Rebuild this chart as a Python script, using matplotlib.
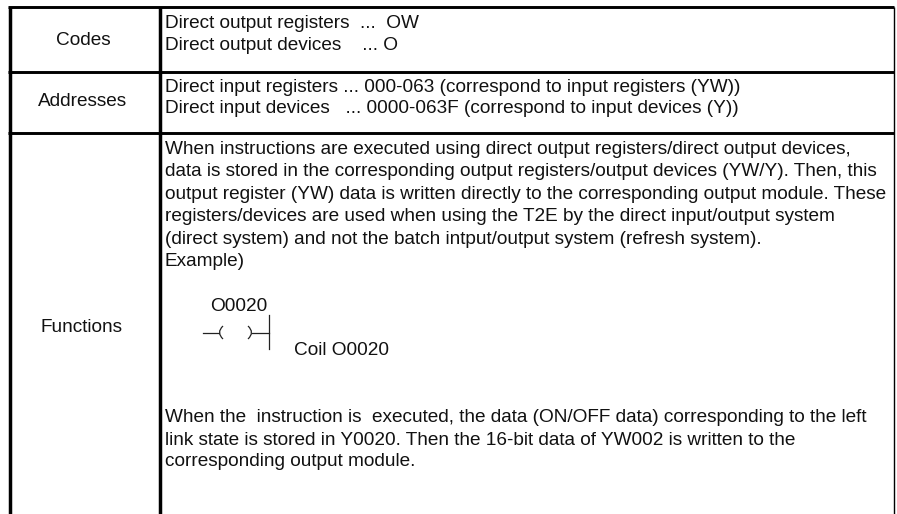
import matplotlib
matplotlib.use('Agg')
import matplotlib.pyplot as plt
from matplotlib.patches import PathPatch
from matplotlib.path import Path

W, H = 897, 514

row_labels = ['Codes', 'Addresses', 'Functions']
row_label_x = [83.5, 83, 82]
row_label_y = [45, 106, 332]

text_lines = [
    (164.7, 28.3, 'Direct output registers  ...  OW'),
    (164.7, 50.3, 'Direct output devices    ... O'),
    (164.7, 91.7, 'Direct input registers ... 000-063 (correspond to input registers (YW))'),
    (164.7, 112.7, 'Direct input devices   ... 0000-063F (correspond to input devices (Y))'),
    (164.7, 154, 'When instructions are executed using direct output registers/direct output devices,'),
    (164.7, 176.5, 'data is stored in the corresponding output registers/output devices (YW/Y). Then, this'),
    (164.7, 199, 'output register (YW) data is written directly to the corresponding output module. These'),
    (164.7, 221, 'registers/devices are used when using the T2E by the direct input/output system'),
    (164.7, 243.5, '(direct system) and not the batch intput/output system (refresh system).'),
    (164.7, 266, 'Example)'),
    (210, 310.7, 'O0020'),
    (294, 355.3, 'Coil O0020'),
    (164.7, 422.3, 'When the  instruction is  executed, the data (ON/OFF data) corresponding to the left'),
    (164.7, 444.7, 'link state is stored in Y0020. Then the 16-bit data of YW002 is written to the'),
    (164.7, 466.3, 'corresponding output module.'),
]

fig = plt.figure(figsize=(W / 100, H / 100), dpi=100)
ax = fig.add_axes([0, 0, 1, 1])
ax.set_xlim(0, W)
ax.set_ylim(H, 0)
ax.axis('off')

# table frame
left, mid, right = 9.5, 160, 893.5
top, row1, row2 = 7, 71.7, 133
for y in [top, row1, row2]:
    ax.plot([left - 1.5, right + 0.5], [y, y], color='black', lw=2.1, solid_capstyle='butt')
for x in [left, mid]:
    ax.plot([x, x], [top, H], color='black', lw=2.5, solid_capstyle='butt')
ax.plot([right, right], [top, H], color='black', lw=1.0, solid_capstyle='butt')

for name, x, y in zip(row_labels, row_label_x, row_label_y):
    ax.text(x, y, name, ha='center', va='baseline', fontsize=13.65, family='Liberation Sans', color='#111111')

for x, y, s in text_lines:
    ax.text(x, y, s, ha='left', va='baseline', fontsize=13.65, family='Liberation Sans', color='#111111')

# coil symbol
ax.plot([202.7, 218.5], [333, 333], color='#222222', lw=0.9)
ax.plot([252, 269], [333, 333], color='#222222', lw=0.9)
ax.plot([269, 269], [315, 349], color='#222222', lw=0.9)
for x0, xc in [(223, 216), (248, 255)]:
    arc = Path([(x0, 326), (xc, 332.5), (x0, 339)], [Path.MOVETO, Path.CURVE3, Path.CURVE3])
    ax.add_patch(PathPatch(arc, fill=False, edgecolor='#222222', lw=0.9))

fig.savefig('out.png', dpi=100)
